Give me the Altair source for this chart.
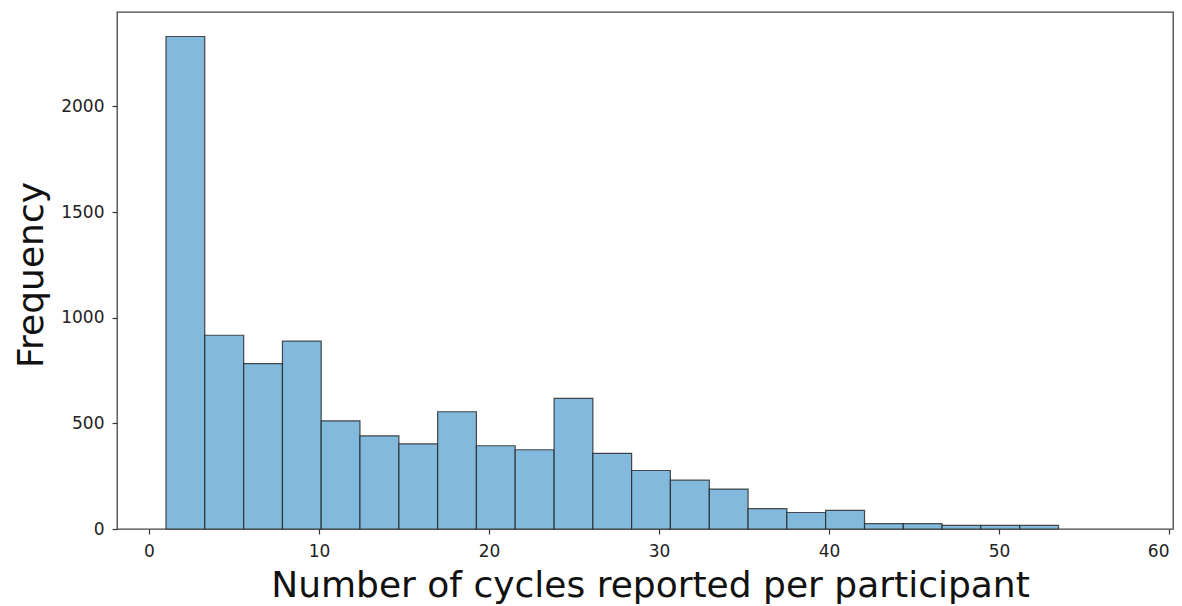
import altair as alt
import pandas as pd

bin_left = [1.00, 3.28, 5.57, 7.85, 10.13, 12.41, 14.70, 16.98, 19.26, 21.54, 23.83, 26.11,
            28.39, 30.67, 32.96, 35.24, 37.52, 39.80, 42.09, 44.37, 46.65, 48.93, 51.22]
bin_right = [3.28, 5.57, 7.85, 10.13, 12.41, 14.70, 16.98, 19.26, 21.54, 23.83, 26.11, 28.39,
             30.67, 32.96, 35.24, 37.52, 39.80, 42.09, 44.37, 46.65, 48.93, 51.22, 53.50]
counts = [2331, 917, 783, 889, 512, 441, 403, 555, 394, 375, 618, 358,
          277, 231, 189, 96, 78, 88, 25, 25, 17, 17, 17]
x_ticks = [0, 10, 20, 30, 40, 50, 60]
y_ticks = [0, 500, 1000, 1500, 2000]

df = pd.DataFrame({"start": bin_left, "end": bin_right, "count": counts})

W, H = 1056, 517

chart = alt.Chart(df).mark_rect(
    fill="#82b9dc", stroke="#222222", strokeOpacity=0.8, strokeWidth=1.2
).encode(
    x=alt.X("start:Q",
            scale=alt.Scale(domain=[-1.882, 60.235], nice=False, zero=False),
            axis=alt.Axis(values=x_ticks, format="d",
                          title="Number of cycles reported per participant",
                          grid=False, domain=False, tickSize=5, tickColor="#333",
                          tickWidth=1.2, labelPadding=9, labelFontSize=17,
                          labelFlush=8,
                          labelColor="#222", labelFont="DejaVu Sans",
                          titleFont="DejaVu Sans", titleFontSize=36, titleFontWeight="normal",
                          titleColor="#111", titleBaseline="alphabetic",
                          titleX=533, titleY=67.5, titleAnchor="middle")),
    x2="end:Q",
    y=alt.Y("count:Q",
            scale=alt.Scale(domain=[0, 2447], nice=False),
            axis=alt.Axis(values=y_ticks, format="d", title="Frequency",
                          grid=False, domain=False, tickSize=5, tickColor="#333",
                          tickWidth=1.2, labelPadding=8, labelFontSize=17,
                          labelColor="#222", labelFont="DejaVu Sans",
                          titleFont="DejaVu Sans", titleFontSize=36, titleFontWeight="normal",
                          titleColor="#111", titleBaseline="alphabetic",
                          titleAngle=270, titleAlign="center",
                          titleX=-75, titleY=262.5)),
    y2=alt.datum(0),
).properties(
    width=W, height=H,
    autosize=alt.AutoSizeParams(type="none"),
    padding={"left": 109, "top": 4, "right": 1, "bottom": 77},
).configure(
    background="white"
).configure_view(
    stroke="#444444", strokeWidth=1.3
)

chart.save("out.html", embed_options={"renderer": "svg", "actions": False})
